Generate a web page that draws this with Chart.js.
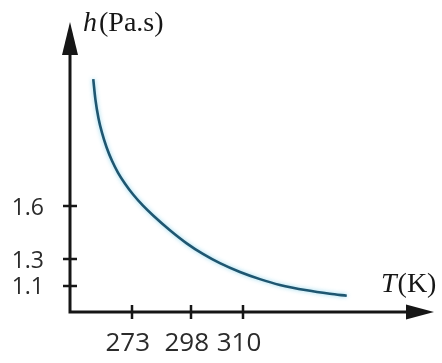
<!DOCTYPE html>
<html>
<head>
<meta charset="utf-8">
<script src="https://cdn.jsdelivr.net/npm/chart.js@4.4.1/dist/chart.umd.min.js"></script>
<style>
  html, body { margin: 0; padding: 0; background: #fff; }
  #wrap { width: 442px; height: 363px; }
</style>
</head>
<body>
<div id="wrap"><canvas id="viscosityChart"></canvas></div>
<script>
// Viscosity h (Pa.s) against temperature T (K)
const temperature = [256.8, 257.7, 259.0, 260.5, 262.4, 264.7, 267.2, 270.2, 273.6, 277.8, 282.2,
                     289.2, 296.3, 300.8, 304.7, 309.3, 313.9, 318.5, 324.7, 330.0, 333.9];
const viscosity = [2.317, 2.203, 2.097, 2.014, 1.933, 1.856, 1.790, 1.727, 1.666, 1.603, 1.546,
                   1.464, 1.390, 1.330, 1.270, 1.203, 1.149, 1.105, 1.064, 1.038, 1.023];

// Marked values on each axis
const tempTicks = [273, 298, 310];
const viscTicks = [1.1, 1.3, 1.6];

// The axes are schematic, not to scale: each marked value has its own spot,
// so values are mapped piecewise between stops [value, fraction of axis length]
const axisStops = {
    x: [[247, 0], [273, 0.1695], [298, 0.3316], [310, 0.4753], [354, 1]],
    y: [[0.9, 0], [1.1, 0.0911], [1.3, 0.1819], [1.6, 0.3649], [2.64, 1]]
};

class StopScale extends Chart.LinearScale {
    getPixelForValue(value) {
        const stops = axisStops[this.id];
        let i = 1;
        while (i < stops.length - 1 && value > stops[i][0]) i++;
        const [v0, f0] = stops[i - 1], [v1, f1] = stops[i];
        return this.getPixelForDecimal(f0 + (value - v0) / (v1 - v0) * (f1 - f0));
    }
    getValueForPixel(pixel) {
        const stops = axisStops[this.id];
        const d = this.getDecimalForPixel(pixel);
        let i = 1;
        while (i < stops.length - 1 && d > stops[i][1]) i++;
        const [v0, f0] = stops[i - 1], [v1, f1] = stops[i];
        return v0 + (d - f0) / (f1 - f0) * (v1 - v0);
    }
}
StopScale.id = 'stops';
StopScale.defaults = Chart.LinearScale.defaults;
Chart.register(StopScale);

// keep the tick labels from pushing the plot area in
function noLabelPadding(s) {
    s.paddingTop = s.paddingBottom = s.paddingLeft = s.paddingRight = 0;
}

// Axis lines with arrowheads, crossing tick marks and axis titles
const axesPlugin = {
    id: 'axes',
    afterDraw(chart) {
        const { ctx, chartArea: a, scales: { x, y } } = chart;
        const ox = a.left, oy = a.bottom;
        ctx.save();
        ctx.strokeStyle = '#161616';
        ctx.fillStyle = '#161616';

        ctx.lineWidth = 3;
        ctx.lineJoin = 'miter';
        ctx.beginPath();
        ctx.moveTo(ox, a.top + 25);
        ctx.lineTo(ox, oy);
        ctx.lineTo(a.right - 20, oy);
        ctx.stroke();

        // arrowheads
        ctx.beginPath();
        ctx.moveTo(ox, a.top);
        ctx.lineTo(ox + 8, a.top + 33);
        ctx.lineTo(ox - 8, a.top + 33);
        ctx.closePath();
        ctx.fill();
        ctx.beginPath();
        ctx.moveTo(a.right, oy);
        ctx.lineTo(a.right - 28, oy - 7.5);
        ctx.lineTo(a.right - 28, oy + 7.5);
        ctx.closePath();
        ctx.fill();

        // tick marks across the axes
        ctx.lineWidth = 2.5;
        ctx.beginPath();
        tempTicks.forEach(v => {
            const px = Math.round(x.getPixelForValue(v));
            ctx.moveTo(px, oy - 7);
            ctx.lineTo(px, oy + 7);
        });
        viscTicks.forEach(v => {
            const py = Math.round(y.getPixelForValue(v));
            ctx.moveTo(ox - 7, py);
            ctx.lineTo(ox + 7, py);
        });
        ctx.stroke();

        // axis titles
        ctx.textBaseline = 'alphabetic';
        ctx.textAlign = 'left';
        ctx.font = 'italic 28px "Liberation Serif"';
        ctx.fillText('h', ox + 13, a.top + 9);
        let w = ctx.measureText('h').width;
        ctx.font = '28px "Liberation Serif"';
        ctx.fillText('(Pa.s)', ox + 15 + w, a.top + 9);

        ctx.font = 'italic 28px "Liberation Serif"';
        ctx.fillText('T', a.right - 53, oy - 20);
        w = ctx.measureText('T').width;
        ctx.font = '28px "Liberation Serif"';
        ctx.fillText('(K)', a.right - 52 + w, oy - 20);
        ctx.restore();
    }
};

// Soft cyan halo round the curve
const glowPlugin = {
    id: 'glow',
    beforeDatasetDraw(chart) {
        const ctx = chart.ctx;
        ctx.save();
        ctx.shadowColor = 'rgba(130, 210, 235, 0.9)';
        ctx.shadowBlur = 4;
    },
    afterDatasetDraw(chart) {
        chart.ctx.restore();
    }
};

const ctx = document.getElementById('viscosityChart');

new Chart(ctx, {
    type: 'line',
    data: {
        datasets: [{
            label: 'h',
            data: temperature.map((t, i) => ({ x: t, y: viscosity[i] })),
            borderColor: '#1f5670',
            borderWidth: 2.6,
            pointRadius: 0,
            fill: false,
            cubicInterpolationMode: 'monotone'
        }]
    },
    options: {
        responsive: true,
        maintainAspectRatio: false,
        devicePixelRatio: 1,
        animation: false,
        events: [],
        layout: {
            autoPadding: false,
            padding: { top: 22, right: 8, left: 0, bottom: 0 }
        },
        plugins: {
            legend: { display: false },
            tooltip: { enabled: false },
            title: { display: false }
        },
        scales: {
            x: {
                type: 'stops',
                min: 247,
                max: 354,
                grid: { display: false, drawTicks: false },
                border: { display: false },
                afterBuildTicks: s => { s.ticks = tempTicks.map(v => ({ value: v })); },
                afterFit: s => { s.height = 51; noLabelPadding(s); },
                ticks: {
                    padding: 16,
                    labelOffset: -4,
                    color: '#2b2b2b',
                    maxRotation: 0,
                    autoSkip: false,
                    font: { family: 'Open Sans', size: 26 },
                    callback: v => String(v)
                }
            },
            y: {
                type: 'stops',
                min: 0.9,
                max: 2.64,
                grid: { display: false, drawTicks: false },
                border: { display: false },
                afterBuildTicks: s => { s.ticks = viscTicks.map(v => ({ value: v })); },
                afterFit: s => { s.width = 70; noLabelPadding(s); },
                ticks: {
                    padding: 26,
                    labelOffset: 2,
                    color: '#2b2b2b',
                    autoSkip: false,
                    font: { family: 'Open Sans', size: 23 },
                    callback: v => v.toFixed(1)
                }
            }
        }
    },
    plugins: [axesPlugin, glowPlugin]
});
</script>
</body>
</html>
